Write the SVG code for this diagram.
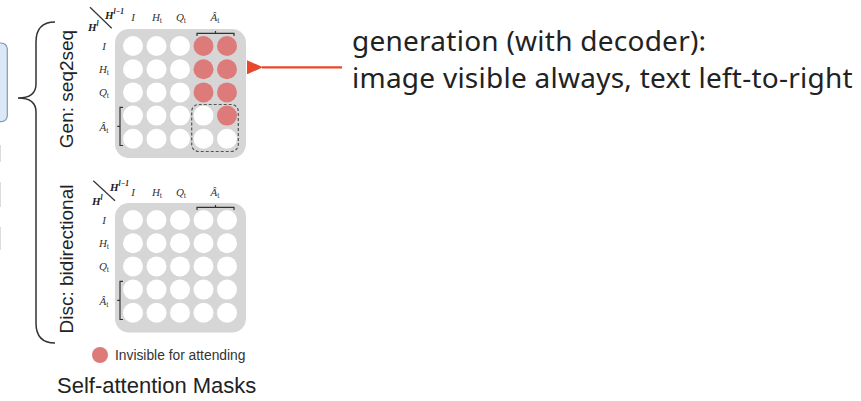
<svg xmlns="http://www.w3.org/2000/svg" width="861" height="401" viewBox="0 0 861 401">
<style>
.bg{fill:#d6d6d6}
.w{fill:#ffffff}
.r{fill:#dd7b7b}
.m{font-family:"Liberation Serif",serif;font-style:italic;font-size:11px;fill:#333}
.mb{font-family:"Liberation Serif",serif;font-style:italic;font-weight:bold;font-size:11px;fill:#222}
.sup{font-size:7.5px}
.sub{font-size:8px;font-style:normal}
.ln{stroke:#333;stroke-width:1.2;fill:none}
.side{font-family:"Liberation Sans",Arial,sans-serif;font-size:19px;fill:#222}
.dash{fill:none;stroke:#555;stroke-width:1.2;stroke-dasharray:3 2}
</style>
<defs>
<marker id="ah" viewBox="0 0 16 14" refX="1" refY="7" markerWidth="16" markerHeight="14" markerUnits="userSpaceOnUse" orient="auto">
<path d="M16,0 L0,7 L16,14 Z" fill="#e8482a"/>
</marker>
</defs>

<g id="left-box">
<rect x="-10" y="43" width="17.3" height="78.7" rx="6" fill="#dae8f7" stroke="#8497b0" stroke-width="1.2"/>
<line x1="0.5" y1="145" x2="0.5" y2="162" stroke="#dcdcdc"/>
<line x1="0.5" y1="182" x2="0.5" y2="207" stroke="#dcdcdc"/>
<line x1="0.5" y1="227" x2="0.5" y2="250" stroke="#dcdcdc"/>
</g>

<g id="brace">
<path d="M55,22 Q36,22 36,42 L36,84 Q36,98 18,98 Q36,98 36,112 L36,323 Q36,343 55,343" fill="none" stroke="#333" stroke-width="1.5"/>
</g>

<g id="label-gen"><text class="side" text-anchor="middle" transform="translate(73,89) rotate(-90)">Gen: seq2seq</text></g>
<g id="label-disc"><text class="side" text-anchor="middle" transform="translate(73,259) rotate(-90)">Disc: bidirectional</text></g>

<g id="matrix-gen">
<line class="ln" x1="90" y1="7.3" x2="111.7" y2="28.3"/>
<text class="mb" x="105" y="18.5">H<tspan class="sup" dy="-5">l−1</tspan></text>
<text class="mb" x="88" y="31">H<tspan class="sup" dy="-5">l</tspan></text>
<text class="m" x="133" y="21" text-anchor="middle">I</text>
<text class="m" x="157" y="21" text-anchor="middle">H<tspan class="sub" dy="2">t</tspan></text>
<text class="m" x="181" y="21" text-anchor="middle">Q<tspan class="sub" dy="2">t</tspan></text>
<text class="m" x="215" y="21" text-anchor="middle">Â<tspan class="sub" dy="2">t</tspan></text>
<text class="m" x="104" y="49.5" text-anchor="middle">I</text>
<text class="m" x="104" y="72.7" text-anchor="middle">H<tspan class="sub" dy="2">t</tspan></text>
<text class="m" x="104" y="95.9" text-anchor="middle">Q<tspan class="sub" dy="2">t</tspan></text>
<text class="m" x="104" y="130.7" text-anchor="middle">Â<tspan class="sub" dy="2">t</tspan></text>
<rect class="bg" x="115" y="29" width="131" height="129" rx="14"/>
<path class="ln" d="M197,36 L197,33.3 L234,33.3 L234,36 M215.5,33.3 L215.5,31"/>
<path class="ln" d="M123,107.3 L120,107.3 L120,145.5 L123,145.5 M120,126.4 L117.3,126.4"/>
<circle class="w" cx="133" cy="46" r="10"/><circle class="w" cx="156.5" cy="46" r="10"/><circle class="w" cx="180" cy="46" r="10"/><circle class="r" cx="203.5" cy="46" r="10"/><circle class="r" cx="227" cy="46" r="10"/>
<circle class="w" cx="133" cy="69.2" r="10"/><circle class="w" cx="156.5" cy="69.2" r="10"/><circle class="w" cx="180" cy="69.2" r="10"/><circle class="r" cx="203.5" cy="69.2" r="10"/><circle class="r" cx="227" cy="69.2" r="10"/>
<circle class="w" cx="133" cy="92.4" r="10"/><circle class="w" cx="156.5" cy="92.4" r="10"/><circle class="w" cx="180" cy="92.4" r="10"/><circle class="r" cx="203.5" cy="92.4" r="10"/><circle class="r" cx="227" cy="92.4" r="10"/>
<circle class="w" cx="133" cy="115.6" r="10"/><circle class="w" cx="156.5" cy="115.6" r="10"/><circle class="w" cx="180" cy="115.6" r="10"/><circle class="w" cx="203.5" cy="115.6" r="10"/><circle class="r" cx="227" cy="115.6" r="10"/>
<circle class="w" cx="133" cy="138.8" r="10"/><circle class="w" cx="156.5" cy="138.8" r="10"/><circle class="w" cx="180" cy="138.8" r="10"/><circle class="w" cx="203.5" cy="138.8" r="10"/><circle class="w" cx="227" cy="138.8" r="10"/>
<rect class="dash" x="191.7" y="104.5" width="46.6" height="47" rx="7"/>
</g>

<g id="matrix-disc">
<line class="ln" x1="93.3" y1="180.7" x2="115" y2="200.7"/>
<text class="mb" x="110" y="191">H<tspan class="sup" dy="-5">l−1</tspan></text>
<text class="mb" x="92" y="205">H<tspan class="sup" dy="-5">l</tspan></text>
<text class="m" x="133" y="196" text-anchor="middle">I</text>
<text class="m" x="157" y="196" text-anchor="middle">H<tspan class="sub" dy="2">t</tspan></text>
<text class="m" x="181" y="196" text-anchor="middle">Q<tspan class="sub" dy="2">t</tspan></text>
<text class="m" x="215" y="196" text-anchor="middle">Â<tspan class="sub" dy="2">t</tspan></text>
<text class="m" x="104" y="223.5" text-anchor="middle">I</text>
<text class="m" x="104" y="246.7" text-anchor="middle">H<tspan class="sub" dy="2">t</tspan></text>
<text class="m" x="104" y="269.9" text-anchor="middle">Q<tspan class="sub" dy="2">t</tspan></text>
<text class="m" x="104" y="304.7" text-anchor="middle">Â<tspan class="sub" dy="2">t</tspan></text>
<rect class="bg" x="115" y="203" width="131" height="129.5" rx="14"/>
<path class="ln" d="M197,210 L197,207.3 L234,207.3 L234,210 M215.5,207.3 L215.5,205"/>
<path class="ln" d="M123,281.3 L120,281.3 L120,319.5 L123,319.5 M120,300.4 L117.3,300.4"/>
<circle class="w" cx="133" cy="220" r="10"/><circle class="w" cx="156.5" cy="220" r="10"/><circle class="w" cx="180" cy="220" r="10"/><circle class="w" cx="203.5" cy="220" r="10"/><circle class="w" cx="227" cy="220" r="10"/>
<circle class="w" cx="133" cy="243.2" r="10"/><circle class="w" cx="156.5" cy="243.2" r="10"/><circle class="w" cx="180" cy="243.2" r="10"/><circle class="w" cx="203.5" cy="243.2" r="10"/><circle class="w" cx="227" cy="243.2" r="10"/>
<circle class="w" cx="133" cy="266.4" r="10"/><circle class="w" cx="156.5" cy="266.4" r="10"/><circle class="w" cx="180" cy="266.4" r="10"/><circle class="w" cx="203.5" cy="266.4" r="10"/><circle class="w" cx="227" cy="266.4" r="10"/>
<circle class="w" cx="133" cy="289.6" r="10"/><circle class="w" cx="156.5" cy="289.6" r="10"/><circle class="w" cx="180" cy="289.6" r="10"/><circle class="w" cx="203.5" cy="289.6" r="10"/><circle class="w" cx="227" cy="289.6" r="10"/>
<circle class="w" cx="133" cy="312.8" r="10"/><circle class="w" cx="156.5" cy="312.8" r="10"/><circle class="w" cx="180" cy="312.8" r="10"/><circle class="w" cx="203.5" cy="312.8" r="10"/><circle class="w" cx="227" cy="312.8" r="10"/>
</g>

<g id="legend">
<circle class="r" cx="100" cy="355" r="8"/>
<text x="115" y="360" font-family="'Liberation Sans',Arial,sans-serif" font-size="13.8" fill="#333">Invisible for attending</text>
</g>

<g id="title">
<text x="57" y="393" font-family="'Liberation Sans',Arial,sans-serif" font-size="22" fill="#222">Self-attention Masks</text>
</g>

<g id="annotation">
<text font-family="'Noto Sans',sans-serif" font-size="28" letter-spacing="0.25" fill="#222"><tspan x="352" y="51">generation (with decoder):</tspan><tspan x="352" y="87.5">image visible always, text left-to-right</tspan></text>
</g>

<g id="connectors">
<line x1="342" y1="67.3" x2="262" y2="67.3" stroke="#e8482a" stroke-width="2.2" marker-end="url(#ah)"/>
</g>
</svg>
